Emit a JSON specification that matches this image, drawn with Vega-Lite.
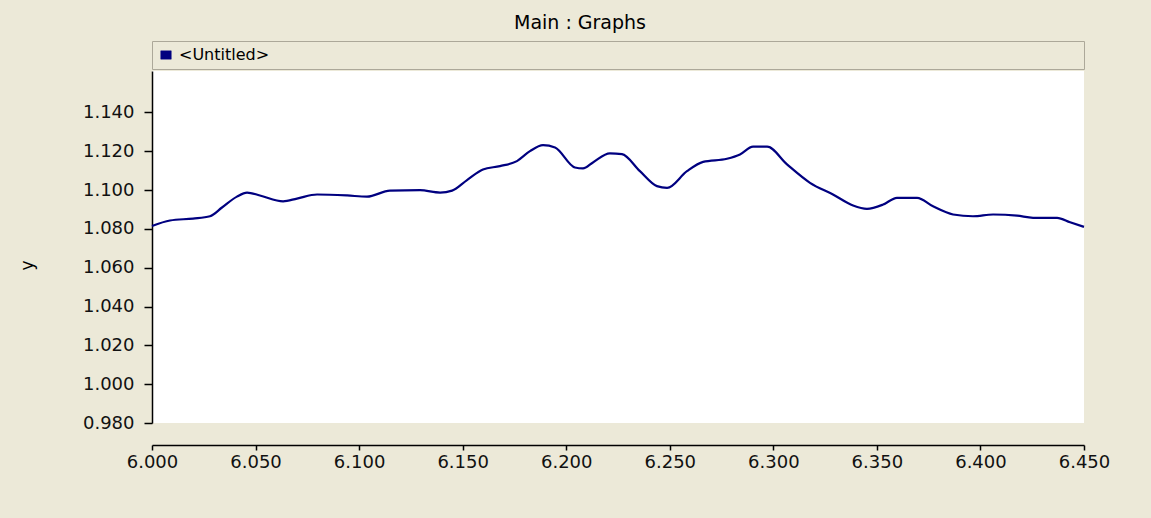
{
  "$schema": "https://vega.github.io/schema/vega-lite/v6.json",
  "width": 932,
  "height": 352,
  "autosize": {"type": "none"},
  "padding": {"left": 152, "top": 71, "right": 67, "bottom": 95},
  "background": "#ECE9D8",
  "config": {
    "font": "DejaVu Sans",
    "view": {"fill": "white", "stroke": null}
  },
  "title": {
    "text": "Main : Graphs",
    "anchor": "middle",
    "dx": -38,
    "offset": 8,
    "font": "DejaVu Sans",
    "fontSize": 19,
    "fontWeight": "normal",
    "color": "#000000"
  },
  "data": {
    "values": [
      {"x": 6.000, "y": 1.0815},
      {"x": 6.0087, "y": 1.0843},
      {"x": 6.0198, "y": 1.0853},
      {"x": 6.028, "y": 1.0865},
      {"x": 6.0338, "y": 1.091},
      {"x": 6.041, "y": 1.0966},
      {"x": 6.0459, "y": 1.0987},
      {"x": 6.0521, "y": 1.0972},
      {"x": 6.0633, "y": 1.0942},
      {"x": 6.070, "y": 1.0956},
      {"x": 6.0797, "y": 1.0977},
      {"x": 6.0942, "y": 1.0972},
      {"x": 6.1038, "y": 1.0966},
      {"x": 6.1149, "y": 1.0997},
      {"x": 6.1294, "y": 1.0999},
      {"x": 6.1391, "y": 1.0987},
      {"x": 6.1449, "y": 1.0997},
      {"x": 6.1521, "y": 1.1051},
      {"x": 6.1598, "y": 1.1106},
      {"x": 6.168, "y": 1.1123},
      {"x": 6.1762, "y": 1.1149},
      {"x": 6.1825, "y": 1.1200},
      {"x": 6.1888, "y": 1.1231},
      {"x": 6.1946, "y": 1.1219},
      {"x": 6.2042, "y": 1.1116},
      {"x": 6.2081, "y": 1.1111},
      {"x": 6.2129, "y": 1.1142},
      {"x": 6.2211, "y": 1.1189},
      {"x": 6.2269, "y": 1.1185},
      {"x": 6.2356, "y": 1.1097},
      {"x": 6.2438, "y": 1.1020},
      {"x": 6.2487, "y": 1.1011},
      {"x": 6.2583, "y": 1.1097},
      {"x": 6.2661, "y": 1.1145},
      {"x": 6.2776, "y": 1.1161},
      {"x": 6.2839, "y": 1.1183},
      {"x": 6.2902, "y": 1.1223},
      {"x": 6.297, "y": 1.1223},
      {"x": 6.3066, "y": 1.1132},
      {"x": 6.3177, "y": 1.1037},
      {"x": 6.3288, "y": 1.0977},
      {"x": 6.3385, "y": 1.0920},
      {"x": 6.3452, "y": 1.0903},
      {"x": 6.353, "y": 1.0925},
      {"x": 6.3597, "y": 1.0960},
      {"x": 6.3694, "y": 1.0960},
      {"x": 6.3771, "y": 1.0916},
      {"x": 6.3868, "y": 1.0874},
      {"x": 6.3964, "y": 1.0865},
      {"x": 6.4061, "y": 1.0874},
      {"x": 6.4177, "y": 1.0868},
      {"x": 6.4254, "y": 1.0857},
      {"x": 6.437, "y": 1.0857},
      {"x": 6.4433, "y": 1.0834},
      {"x": 6.45, "y": 1.0810}
    ]
  },
  "mark": {"type": "line", "interpolate": "monotone", "strokeWidth": 2.2},
  "encoding": {
    "x": {
      "field": "x",
      "type": "quantitative",
      "scale": {"domain": [6.0, 6.45], "nice": false, "zero": false},
      "axis": {
        "title": null,
        "values": [6.0, 6.05, 6.1, 6.15, 6.2, 6.25, 6.3, 6.35, 6.4, 6.45],
        "format": ".3f",
        "grid": false,
        "offset": 22,
        "tickSize": 5,
        "tickWidth": 1.5,
        "tickColor": "#000000",
        "domainColor": "#000000",
        "domainWidth": 1.5,
        "labelPadding": 3,
        "labelFont": "DejaVu Sans",
        "labelFontSize": 18,
        "labelColor": "#111111",
        "labelOverlap": false,
        "labelFlush": false
      }
    },
    "y": {
      "field": "y",
      "type": "quantitative",
      "scale": {"domain": [0.98, 1.1613], "nice": false, "zero": false},
      "axis": {
        "title": "y",
        "titleX": -116,
        "titleY": 194,
        "titleFont": "DejaVu Sans",
        "titleFontSize": 17,
        "titleFontWeight": "normal",
        "titleColor": "#000000",
        "values": [0.98, 1.0, 1.02, 1.04, 1.06, 1.08, 1.1, 1.12, 1.14],
        "format": ".3f",
        "grid": false,
        "tickSize": 8,
        "tickWidth": 1.5,
        "tickColor": "#000000",
        "domainColor": "#000000",
        "domainWidth": 1.5,
        "labelPadding": 10,
        "labelFont": "DejaVu Sans",
        "labelFontSize": 18,
        "labelColor": "#111111",
        "labelOverlap": false,
        "labelFlush": false
      }
    },
    "color": {
      "datum": "<Untitled>",
      "scale": {"range": ["#000080"]},
      "legend": {
        "orient": "none",
        "legendX": 0,
        "legendY": -30,
        "title": null,
        "symbolType": "M-1,-0.8H1V0.8H-1Z",
        "symbolSize": 110,
        "symbolFillColor": "#000080",
        "symbolStrokeColor": "#000080",
        "symbolStrokeWidth": 0.5,
        "labelFont": "DejaVu Sans",
        "labelFontSize": 16,
        "labelColor": "#000000",
        "labelOffset": 5,
        "labelLimit": 2000,
        "labelExpr": "pad(datum.label, 169, '\u00a0') + '\u200b'",
        "padding": 6,
        "fillColor": "#ECE9D8",
        "strokeColor": "#ACA899",
        "cornerRadius": 0
      }
    }
  }
}
